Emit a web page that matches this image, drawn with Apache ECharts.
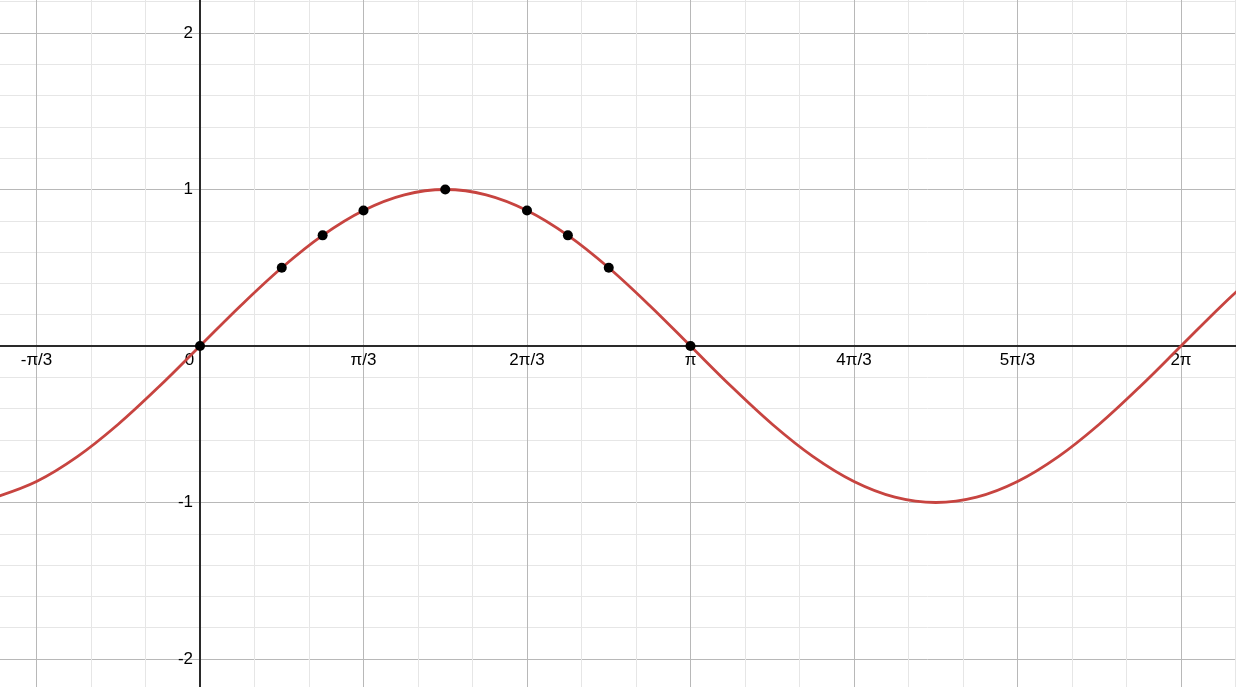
<!DOCTYPE html>
<html><head><meta charset="utf-8">
<script src="https://cdn.jsdelivr.net/npm/echarts@6/dist/echarts.min.js"></script>
<style>html,body{margin:0;padding:0;background:#fff}#c{width:1236px;height:687px}</style>
</head><body><div id="c"></div>
<script>
// x values in units of π/3
const curveX = [-1.25,-1,-0.75,-0.5,-0.25,0,0.25,0.5,0.75,1,1.25,1.5,1.75,2,2.25,2.5,2.75,3,3.25,3.5,3.75,4,4.25,4.5,4.75,5,5.25,5.5,5.75,6,6.25,6.5];
const curveY = [-0.966,-0.866,-0.707,-0.5,-0.259,0,0.259,0.5,0.707,0.866,0.966,1,0.966,0.866,0.707,0.5,0.259,0,-0.259,-0.5,-0.707,-0.866,-0.966,-1,-0.966,-0.866,-0.707,-0.5,-0.259,0,0.259,0.5];
const pointX = [0,0.5,0.75,1,1.5,2,2.25,2.5,3];
const pointY = [0,0.5,0.707,0.866,1,0.866,0.707,0.5,0];
const xTickValues = [-2,-1,0,1,2,3,4,5,6,7];
const xTickLabels = ['-2π/3','-π/3','0','π/3','2π/3','π','4π/3','5π/3','2π','7π/3'];
const yTickLabels = {'-3':'-3','-2':'-2','-1':'-1','1':'1','2':'2','3':'3'};

const chart = echarts.init(document.getElementById('c'));
const font = 'Arial, "Liberation Sans", sans-serif';
chart.setOption({
  animation:false,
  backgroundColor:'#fff',
  grid:{left:-127,right:-108.5,top:-123.5,bottom:-128.5,containLabel:false,outerBoundsMode:'none'},
  xAxis:{type:'value',min:-2,max:7,interval:1,position:'bottom',offset:-469.5,
    axisLine:{show:true,onZero:false,lineStyle:{color:'#2a2a2a',width:2}},
    axisTick:{show:false},
    splitLine:{show:true,lineStyle:{color:'#b8b8b8',width:1}},
    minorTick:{show:false,splitNumber:3},
    minorSplitLine:{show:true,lineStyle:{color:'#e6e6e6',width:1}},
    axisLabel:{show:true,margin:6,fontSize:17,color:'#000',fontFamily:font,
      formatter:function(v){const i=xTickValues.indexOf(Math.round(v));const t=i>=0?xTickLabels[i]:'';return Math.round(v)===0?'{z|0}':t;},
      rich:{z:{fontSize:17,color:'#000',fontFamily:font,padding:[0,21,0,0]}}}
  },
  yAxis:{type:'value',min:-3,max:3,interval:1,position:'left',offset:-327,
    axisLine:{show:true,onZero:false,lineStyle:{color:'#2a2a2a',width:2}},
    axisTick:{show:false},
    splitLine:{show:true,lineStyle:{color:'#b8b8b8',width:1}},
    minorTick:{show:false,splitNumber:5},
    minorSplitLine:{show:true,lineStyle:{color:'#e6e6e6',width:1}},
    axisLabel:{show:true,margin:7,fontSize:17,color:'#000',fontFamily:font,
      formatter:function(v){return yTickLabels[String(Math.round(v))]||'';}}
  },
  series:[
    {type:'line',data:curveX.map((x,i)=>[x,curveY[i]]),smooth:0.35,showSymbol:false,
      lineStyle:{color:'#c74440',width:2.8},z:3},
    {type:'scatter',data:pointX.map((x,i)=>[x,pointY[i]]),symbolSize:10,
      itemStyle:{color:'#000',opacity:1},z:4}
  ]
});
</script></body></html>
